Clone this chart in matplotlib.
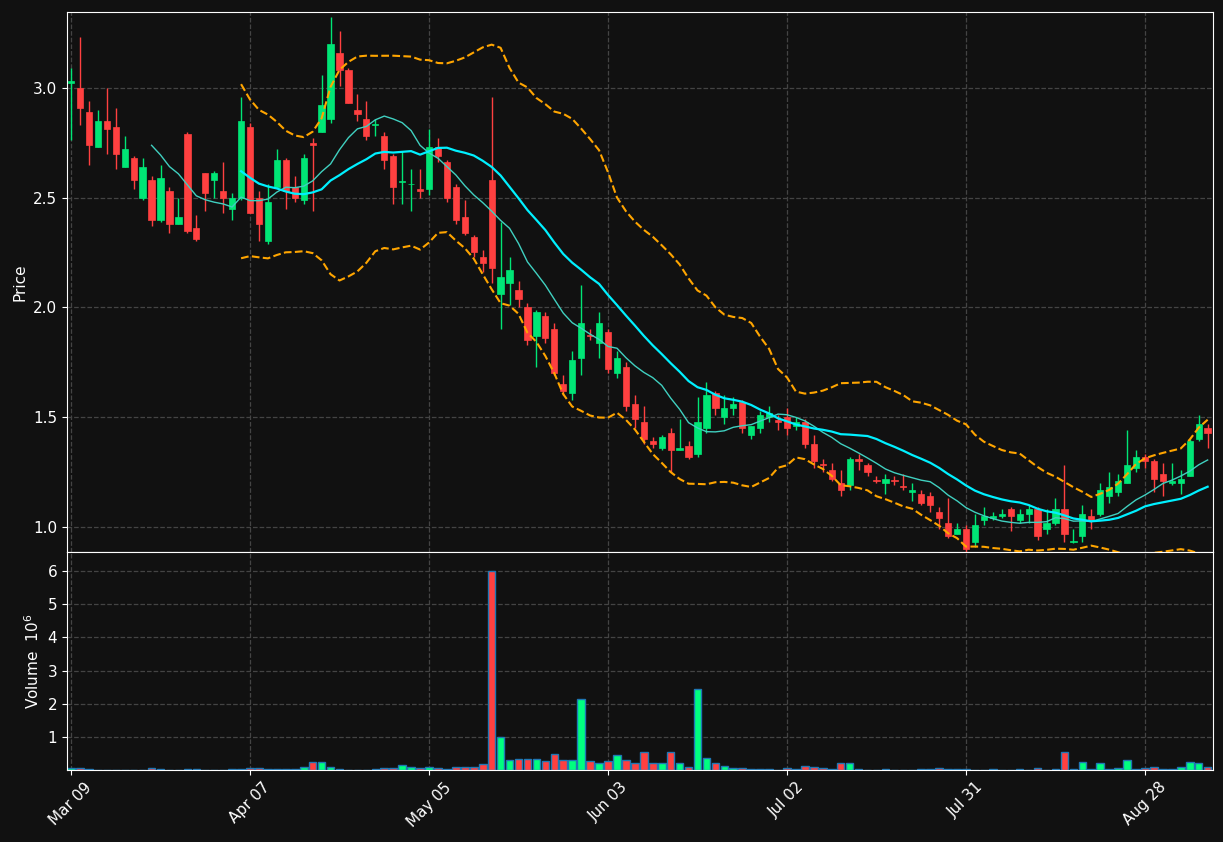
import numpy as np
import pandas as pd
import matplotlib
matplotlib.use("Agg")
import matplotlib.pyplot as plt
from matplotlib.patches import Rectangle

opens = [3.02,3.00,2.89,2.73,2.85,2.82,2.64,2.68,2.50,2.58,2.40,2.53,2.38,2.79,2.36,2.61,2.58,2.53,2.45,2.50,
         2.82,2.50,2.30,2.55,2.67,2.55,2.49,2.75,2.80,2.86,3.16,3.08,2.90,2.86,2.83,2.78,2.69,2.57,2.56,2.54,
         2.54,2.73,2.66,2.55,2.41,2.32,2.23,2.58,2.06,2.11,2.08,2.00,1.87,1.96,1.90,1.65,1.61,1.77,1.875,1.84,
         1.89,1.70,1.73,1.56,1.48,1.39,1.36,1.43,1.35,1.37,1.33,1.45,1.61,1.50,1.54,1.57,1.42,1.45,1.50,1.485,
         1.50,1.46,1.48,1.38,1.285,1.26,1.20,1.19,1.31,1.28,1.215,1.20,1.215,1.185,1.16,1.15,1.14,1.07,1.02,0.97,
         0.99,0.93,1.03,1.04,1.05,1.08,1.03,1.06,1.08,0.99,1.02,1.08,0.93,0.96,1.05,1.06,1.14,1.16,1.20,1.27,
         1.32,1.30,1.24,1.20,1.20,1.23,1.40,1.45]
closes = [3.03,2.91,2.74,2.85,2.81,2.70,2.72,2.58,2.64,2.40,2.59,2.38,2.41,2.35,2.31,2.52,2.61,2.50,2.50,2.85,
          2.43,2.38,2.48,2.67,2.53,2.50,2.68,2.74,2.92,3.20,3.08,2.93,2.88,2.78,2.83,2.67,2.55,2.57,2.56,2.53,
          2.73,2.69,2.50,2.40,2.34,2.25,2.20,2.18,2.14,2.17,2.04,1.85,1.98,1.86,1.70,1.62,1.76,1.93,1.87,1.93,
          1.72,1.77,1.55,1.49,1.40,1.38,1.41,1.35,1.36,1.32,1.48,1.60,1.54,1.54,1.56,1.45,1.46,1.51,1.52,1.48,
          1.45,1.48,1.38,1.30,1.28,1.22,1.17,1.31,1.30,1.25,1.21,1.22,1.21,1.18,1.17,1.11,1.10,1.04,0.96,0.99,
          0.90,1.01,1.05,1.05,1.06,1.05,1.06,1.08,0.96,1.02,1.08,0.97,0.935,1.06,1.03,1.17,1.18,1.21,1.28,1.32,
          1.30,1.22,1.21,1.21,1.22,1.39,1.47,1.43]
highs = [3.09,3.23,2.94,2.90,3.00,2.91,2.78,2.69,2.68,2.60,2.65,2.55,2.50,2.80,2.42,2.61,2.62,2.66,2.52,2.96,
         2.84,2.53,2.56,2.72,2.68,2.60,2.70,2.77,3.06,3.32,3.26,3.09,2.97,2.94,2.86,2.80,2.70,2.71,2.63,2.63,
         2.81,2.77,2.67,2.56,2.49,2.33,2.26,2.96,2.39,2.23,2.12,2.02,1.99,1.98,1.93,1.69,1.80,2.10,1.90,1.98,
         1.90,1.80,1.75,1.60,1.55,1.41,1.42,1.45,1.49,1.39,1.59,1.66,1.62,1.60,1.59,1.58,1.46,1.53,1.55,1.51,
         1.54,1.50,1.49,1.42,1.31,1.29,1.26,1.32,1.33,1.29,1.23,1.24,1.23,1.24,1.20,1.17,1.16,1.09,1.13,1.02,
         1.01,1.06,1.09,1.07,1.08,1.09,1.08,1.10,1.09,1.08,1.13,1.28,0.99,1.10,1.08,1.20,1.25,1.24,1.44,1.35,
         1.33,1.31,1.29,1.29,1.26,1.40,1.51,1.47]
lows = [2.76,2.83,2.65,2.73,2.70,2.63,2.64,2.54,2.49,2.37,2.39,2.34,2.38,2.34,2.30,2.44,2.50,2.43,2.40,2.49,
        2.43,2.30,2.29,2.55,2.45,2.48,2.47,2.44,2.80,2.84,3.01,2.93,2.85,2.76,2.78,2.63,2.47,2.47,2.44,2.50,
        2.51,2.66,2.48,2.38,2.33,2.23,2.16,2.11,1.90,2.01,2.00,1.83,1.73,1.84,1.69,1.60,1.58,1.69,1.85,1.77,
        1.70,1.68,1.53,1.45,1.38,1.36,1.35,1.25,1.35,1.31,1.32,1.43,1.51,1.47,1.51,1.43,1.40,1.43,1.48,1.44,
        1.42,1.44,1.36,1.27,1.25,1.21,1.14,1.17,1.26,1.23,1.20,1.15,1.19,1.17,1.12,1.10,1.07,0.99,0.95,0.97,
        0.88,0.91,1.01,1.03,1.04,0.98,1.02,1.02,0.94,0.97,1.01,0.93,0.925,0.93,0.99,1.05,1.11,1.14,1.20,1.25,
        1.27,1.16,1.14,1.19,1.15,1.23,1.39,1.36]
volumes = [0.05,0.05,0.04,0.01,0.01,0.01,0.01,0.01,0.01,0.05,0.03,0.01,0.01,0.02,0.02,0.01,0.01,0.01,0.02,0.02,
           0.07,0.05,0.04,0.04,0.03,0.02,0.10,0.25,0.25,0.10,0.02,0.01,0.01,0.01,0.02,0.05,0.05,0.15,0.10,0.07,
           0.10,0.07,0.03,0.10,0.10,0.10,0.17,6.00,1.00,0.30,0.33,0.33,0.33,0.27,0.48,0.30,0.30,2.15,0.27,0.22,
           0.27,0.45,0.30,0.20,0.55,0.20,0.20,0.55,0.20,0.10,2.45,0.35,0.20,0.13,0.05,0.05,0.02,0.02,0.02,0.01,
           0.07,0.03,0.13,0.10,0.07,0.03,0.22,0.22,0.03,0.01,0.01,0.02,0.01,0.01,0.01,0.02,0.03,0.05,0.03,0.02,
           0.02,0.01,0.01,0.03,0.01,0.01,0.03,0.01,0.07,0.01,0.02,0.55,0.02,0.25,0.02,0.20,0.03,0.07,0.30,0.02,
           0.07,0.10,0.03,0.02,0.10,0.25,0.20,0.10]
tick_idx = [0, 20, 40, 60, 80, 100, 120]
tick_labels = ["Mar 09", "Apr 07", "May 05", "Jun 03", "Jul 02", "Jul 31", "Aug 28"]

o = np.array(opens); c = np.array(closes); h = np.array(highs); l = np.array(lows); v = np.array(volumes)
n = len(c); x = np.arange(n)
UP, DOWN = "#00e676", "#ff4040"
VUP = "#00ff7f"
cols = [UP if ci >= oi else DOWN for oi, ci in zip(o, c)]
vcols = [VUP if ci >= oi else DOWN for oi, ci in zip(o, c)]

s = pd.Series(c)
ma10 = s.rolling(10).mean(); ma20 = s.rolling(20).mean(); sd = s.rolling(20).std(ddof=0)
up_b = ma20 + 2 * sd; lo_b = ma20 - 2 * sd

BG = "#111111"
fig = plt.figure(figsize=(12.23, 8.42), dpi=100, facecolor=BG)
W, H = 1223, 842
axp = fig.add_axes([67/W, 1-552/H, (1213-67)/W, (552-12)/H], facecolor=BG)
axv = fig.add_axes([67/W, 1-770/H, (1213-67)/W, (770-552)/H], facecolor=BG, sharex=axp)

for i in x:
    axp.vlines(i, l[i], h[i], color=cols[i], lw=1, zorder=3)
    bot = min(o[i], c[i]); ht = max(abs(c[i]-o[i]), 0.004)
    axp.add_patch(Rectangle((i-0.35, bot), 0.7, ht, facecolor=cols[i], edgecolor=cols[i], lw=0.5, zorder=4))
axp.plot(x, ma10, color="#40d0c0", lw=1, zorder=5)
axp.plot(x, ma20, color="#00f0ff", lw=1.6, zorder=5)
axp.plot(x, up_b, color="#ffa500", lw=1.5, ls="--", zorder=5)
axp.plot(x, lo_b, color="#ffa500", lw=1.5, ls="--", zorder=5)
axp.set_ylim(0.886, 3.345)
axp.set_yticks([1.0, 1.5, 2.0, 2.5, 3.0])
axp.set_ylabel("Price", color="white", fontsize=11)

axv.bar(x, v, width=0.85, color=vcols, edgecolor="#1f77b4", linewidth=1)
axv.set_ylim(0, 6.58)
axv.set_yticks([1, 2, 3, 4, 5, 6])
axv.set_ylabel("Volume  $10^6$", color="white", fontsize=11)
axv.set_xlim(-0.45, n - 0.4)
axv.set_xticks(tick_idx)
axv.set_xticklabels(tick_labels, rotation=45, ha="center")

for ax in (axp, axv):
    ax.grid(True, color="#444444", ls="--", lw=0.9)
    ax.set_axisbelow(True)
    ax.tick_params(colors="white", labelsize=11)
    for sp in ax.spines.values():
        sp.set_color("white")
plt.setp(axp.get_xticklabels(), visible=False)
axp.tick_params(axis="x", length=0)

fig.savefig("out.png", dpi=100, facecolor=BG)
